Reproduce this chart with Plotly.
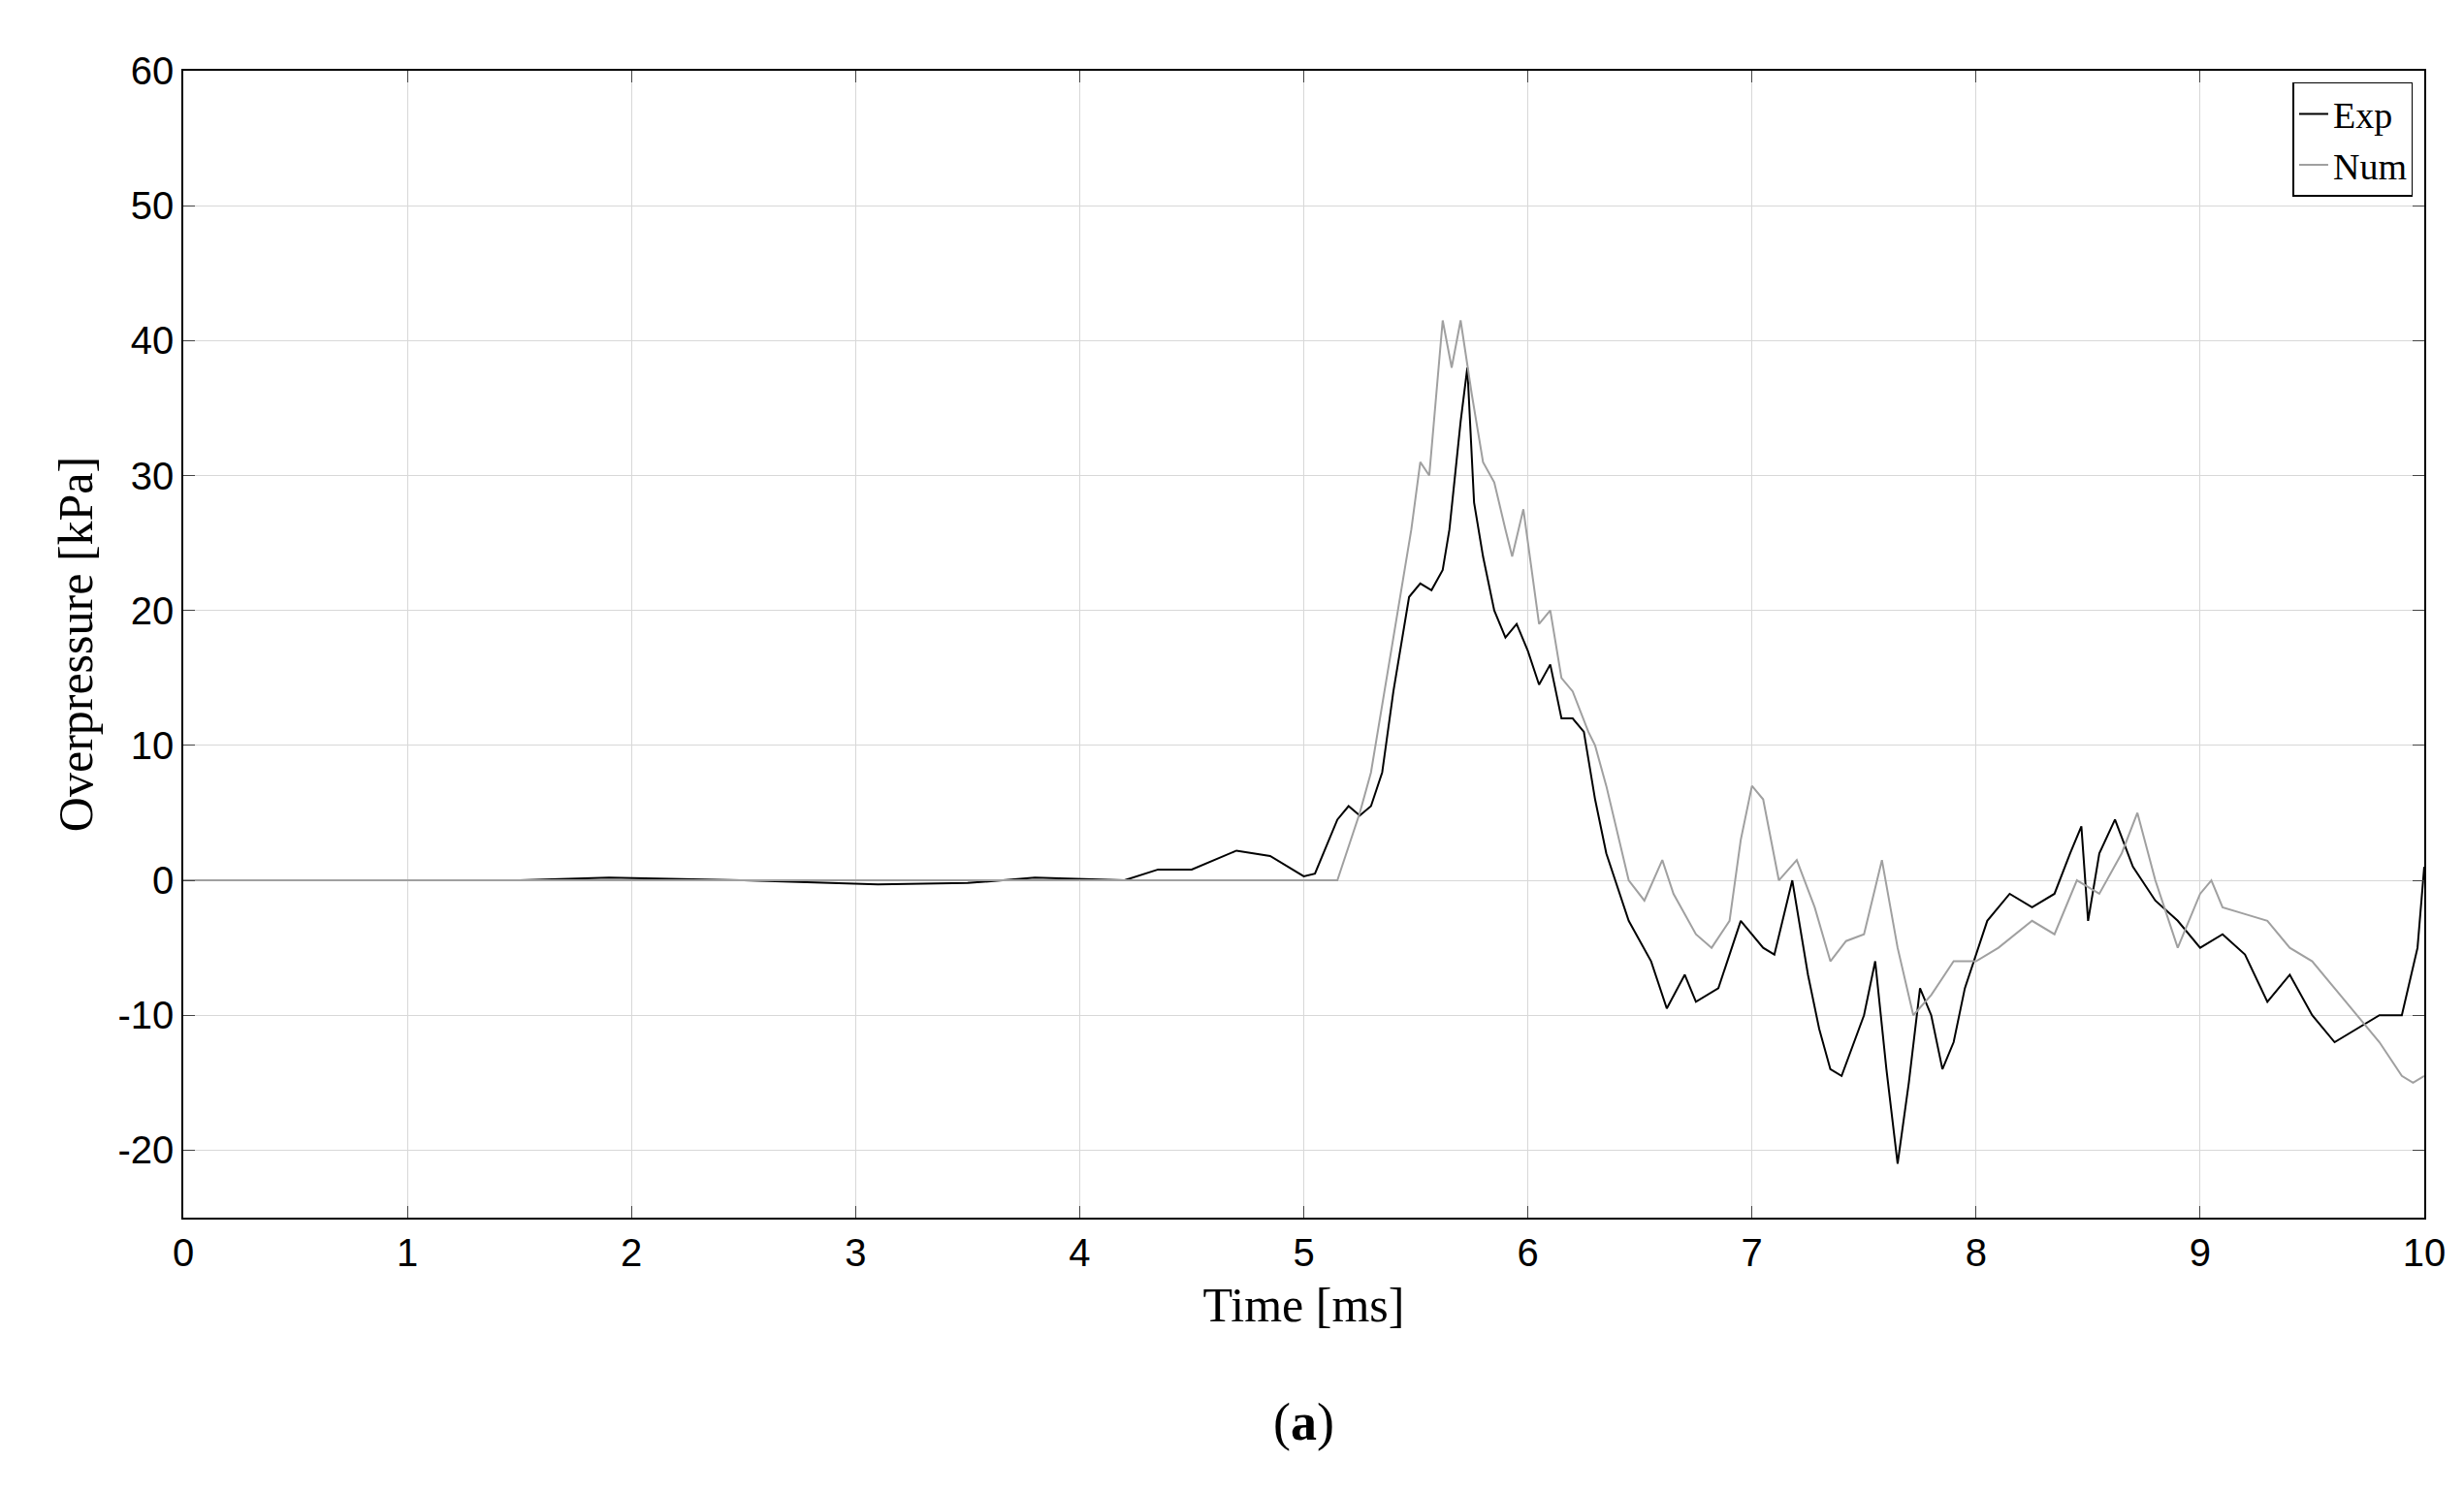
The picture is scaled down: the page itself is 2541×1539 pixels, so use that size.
import plotly.graph_objects as go

exp_t = [0,0.5,1,1.5,1.9,2.5,3.1,3.5,3.8,4.2,4.35,4.5,4.7,4.85,5.0,5.05,5.15,5.2,5.25,5.3,5.35,5.4,5.47,5.52,5.57,5.62,5.65,5.7,5.73,5.76,5.8,5.85,5.9,5.95,6.0,6.05,6.1,6.15,6.2,6.25,6.3,6.35,6.45,6.55,6.62,6.7,6.75,6.85,6.95,7.05,7.1,7.18,7.25,7.3,7.35,7.4,7.5,7.55,7.6,7.65,7.7,7.75,7.8,7.85,7.9,7.95,8.05,8.15,8.25,8.35,8.42,8.47,8.5,8.55,8.62,8.7,8.8,8.9,9.0,9.1,9.2,9.3,9.4,9.5,9.6,9.7,9.8,9.9,9.97,10]
exp_v = [0,0,0,0,0.2,0,-0.3,-0.2,0.2,0,0.8,0.8,2.2,1.8,0.3,0.5,4.5,5.5,4.8,5.5,8,14,21,22,21.5,23,26,34,38,28,24,20,18,19,17,14.5,16,12,12,11,6,2,-3,-6,-9.5,-7,-9,-8,-3,-5,-5.5,0,-7,-11,-14,-14.5,-10,-6,-14,-21,-15,-8,-10,-14,-12,-8,-3,-1,-2,-1,2,4,-3,2,4.5,1,-1.5,-3,-5,-4,-5.5,-9,-7,-10,-12,-11,-10,-10,-5,1]
num_t = [0,5.15,5.25,5.3,5.4,5.48,5.52,5.56,5.62,5.66,5.7,5.75,5.8,5.85,5.9,5.93,5.98,6.05,6.1,6.15,6.2,6.27,6.3,6.35,6.45,6.52,6.6,6.65,6.75,6.82,6.9,6.95,7.0,7.05,7.12,7.2,7.28,7.35,7.42,7.5,7.58,7.65,7.72,7.8,7.9,8.0,8.1,8.25,8.35,8.45,8.55,8.65,8.72,8.8,8.9,9.0,9.05,9.1,9.2,9.3,9.4,9.5,9.6,9.7,9.8,9.9,9.95,10]
num_v = [0,0,5,8,18,26,31,30,41.5,38,41.5,36,31,29.5,26,24,27.5,19,20,15,14,11,10,7,0,-1.5,1.5,-1,-4,-5,-3,3,7,6,0,1.5,-2,-6,-4.5,-4,1.5,-5,-10,-8.5,-6,-6,-5,-3,-4,0,-1,2,5,0,-5,-1,0,-2,-2.5,-3,-5,-6,-8,-10,-12,-14.5,-15,-14.5]
y_ticks = [-20,-10,0,10,20,30,40,50,60]
y_labels = ["-20","-10","0","10","20","30","40","50","60"]

fig = go.Figure()
fig.add_trace(go.Scatter(x=exp_t, y=exp_v, mode="lines", name="Exp", line=dict(color="black", width=2)))
fig.add_trace(go.Scatter(x=num_t, y=num_v, mode="lines", name="Num", line=dict(color="#a0a0a0", width=2)))
axis = dict(showline=True, linecolor="black", linewidth=1.5, mirror="allticks", ticks="inside", ticklen=12,
            gridcolor="#d8d8d8", zeroline=False, tickfont=dict(family="Liberation Sans", size=40, color="black"))
fig.update_layout(
    width=2541, height=1539, plot_bgcolor="white", paper_bgcolor="white",
    margin=dict(l=181, r=49, t=65, b=291),
    xaxis=dict(range=[0,10], dtick=1, title=dict(text="Time [ms]", font=dict(family="Liberation Serif", size=50, color="black"), standoff=15), **axis),
    yaxis=dict(range=[-25,60], tickvals=y_ticks, ticktext=y_labels, title=dict(text="Overpressure [kPa]", font=dict(family="Liberation Serif", size=50, color="black"), standoff=10), **axis),
    legend=dict(x=0.995, y=0.99, xanchor="right", yanchor="top", bordercolor="black", borderwidth=1.5,
                bgcolor="white", font=dict(family="Liberation Serif", size=38, color="black"), tracegroupgap=0),
    annotations=[dict(text="(<b>a</b>)", x=0.5, y=-0.205, xref="paper", yref="paper", showarrow=False,
                      font=dict(family="Liberation Serif", size=54, color="black"))],
)
fig.write_html("out.html")
